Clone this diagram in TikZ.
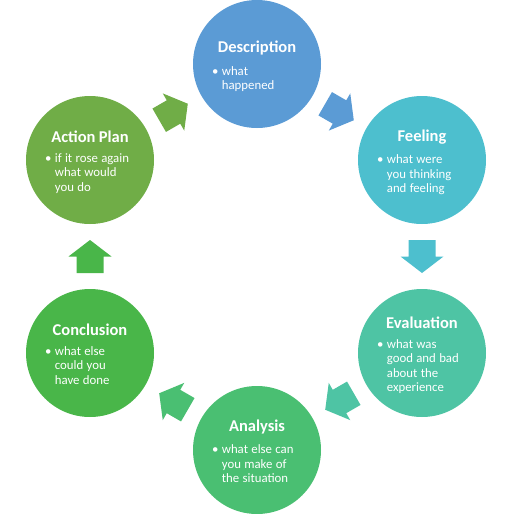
\documentclass[tikz,border=0pt]{standalone}
\usepackage{fontspec}
\setmainfont{Carlito}
\usetikzlibrary{calc}
\definecolor{descblue}{RGB}{91,155,213}
\definecolor{feelcyan}{RGB}{77,191,206}
\definecolor{evalteal}{RGB}{78,196,164}
\definecolor{analgreen}{RGB}{74,191,114}
\definecolor{conclgreen}{RGB}{73,182,73}
\definecolor{actgreen}{RGB}{112,173,71}
\newcommand{\stagetext}[2]{\makebox[90pt]{\rule{0pt}{18pt}\fontsize{16.5}{18}\selectfont\bfseries #1}\\[9pt]%
  \fontsize{12.8}{14.3}\selectfont\begin{tabular}{@{}l@{\hspace{3.5pt}}l@{}}\textbullet & #2\end{tabular}}
\tikzset{
  stage/.style={circle, fill=#1, minimum size=128pt, inner sep=0pt, text=white,
    text width=90pt, align=left},
}
\begin{document}
\begin{tikzpicture}[x=1pt,y=-1pt]
          \useasboundingbox (0,0) rectangle (514,514);
          \node[stage=descblue] (desc) at (257,64) {\stagetext{Description}{what\\ & happened}};
          \node[stage=feelcyan] (feel) at (422,160) {\stagetext{Feeling}{what were\\ & you thinking\\ & and feeling}};
          \node[stage=evalteal] (eval) at (422,353) {\stagetext{Evaluation}{what was\\ & good and bad\\ & about the\\ & experience}};
          \node[stage=analgreen] (anal) at (257,450) {\stagetext{Analysis}{what else can\\ & you make of\\ & the situation}};
          \node[stage=conclgreen] (concl) at (90,353) {\stagetext{Conclusion}{what else\\ & could you\\ & have done}};
          \node[stage=actgreen] (act) at (90,160) {\stagetext{Action Plan}{if it rose again\\ & what would\\ & you do}};
          \foreach \a/\b/\ang/\col in {desc/feel/-30/descblue, feel/eval/-90/feelcyan, eval/anal/-150/evalteal,
              anal/concl/150/analgreen, concl/act/90/conclgreen, act/desc/30/actgreen}
            \fill[\col, shift={($(\a)!0.5!(\b)$)}, rotate=\ang]
              (-16.5,-13.5) -- (0,-13.5) -- (0,-21.5) -- (16.5,0) -- (0,21.5) -- (0,13.5) -- (-16.5,13.5) -- cycle;
\end{tikzpicture}
\end{document}
